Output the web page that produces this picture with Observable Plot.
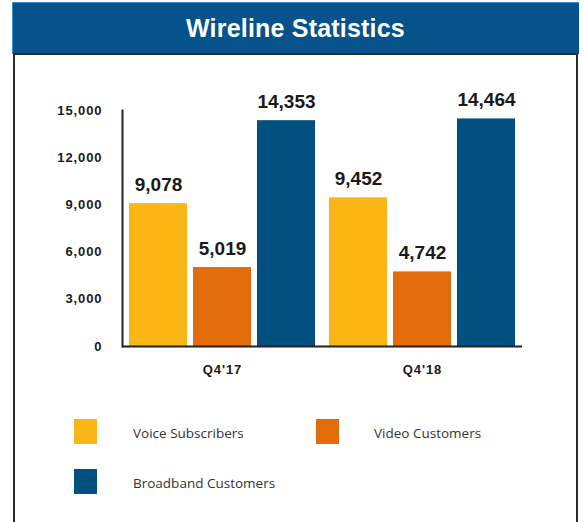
<!DOCTYPE html>
<html>
<head>
<meta charset="utf-8">
<script src="https://cdn.jsdelivr.net/npm/d3@7"></script>
<script src="https://cdn.jsdelivr.net/npm/@observablehq/plot@0.6"></script>
<style>
  html, body { margin: 0; padding: 0; background: #fff; width: 584px; height: 522px; overflow: hidden; }
  #banner { position: absolute; left: 12px; top: 2px; width: 567px; height: 52px; background: #06528a;
    box-shadow: inset 1px 1px 0 #3b8fd0; color: #fff; font: bold 25px "Liberation Sans", Arial, sans-serif;
    letter-spacing: 0.2px; text-align: center; line-height: 52px; }
  #box { position: absolute; left: 13px; top: 53px; width: 561px; height: 500px; border: 2px solid #2b2b2b;
    border-bottom: none; background: transparent; pointer-events: none; z-index: 5; }
  #chart { position: absolute; left: 0; top: 60px; width: 584px; }
  .sw { position: absolute; width: 23px; height: 25px; }
  .lt { position: absolute; font: 13.5px "Open Sans", sans-serif; color: #333; line-height: 16px; }
</style>
</head>
<body>
<div id="banner">Wireline Statistics</div>
<div id="chart"></div>
<div id="legend"></div>
<div id="box"></div>
<script>
const quarters = ["Q4'17", "Q4'18"];
const series = ["Voice Subscribers", "Video Customers", "Broadband Customers"];
const seriesColors = ["#FBB616", "#E36C0A", "#02507F"];
const voiceSubscribers = [9078, 9452];
const videoCustomers = [5019, 4742];
const broadbandCustomers = [14353, 14464];
const yTicks = [0, 3000, 6000, 9000, 12000, 15000];

const values = [voiceSubscribers, videoCustomers, broadbandCustomers];
const rows = [];
quarters.forEach((q, qi) => {
  series.forEach((s, si) => rows.push({quarter: q, series: s, value: values[si][qi]}));
});

const fmt = d3.format(",");

const plot = Plot.plot({
  width: 584,
  height: 320,
  marginLeft: 121,
  marginRight: 62,
  marginTop: 50,
  marginBottom: 34,
  style: {background: "transparent", color: "#111", fontFamily: "'Liberation Sans', Arial, sans-serif"},
  fx: {domain: quarters, padding: 0, label: null, axis: null},
  x: {domain: series, padding: 0.1, axis: null},
  y: {domain: [0, 15000], axis: null},
  color: {domain: series, range: seriesColors},
  facet: {data: rows, x: "quarter"},
  marks: [
    Plot.barY(rows, {fx: "quarter", x: "series", y: "value", fill: "series"}),
    Plot.text(rows, {fx: "quarter", x: "series", y: "value", text: d => fmt(d.value),
      dy: -13, lineAnchor: "bottom", fontSize: 19, fontWeight: "bold", fill: "#1a1a1a",
      style: "letter-spacing:1px"}),
    Plot.ruleY([0], {stroke: "#222", strokeWidth: 2}),
    Plot.frame({anchor: "left", facetAnchor: "left", stroke: "#222", strokeWidth: 2}),
    Plot.axisY({ticks: yTicks, tickFormat: fmt, tickSize: 0, tickPadding: 20, label: null,
      fontSize: 13, fontWeight: "bold", fill: "#1a1a1a"}),
    Plot.axisFx({anchor: "bottom", tickSize: 0, tickPadding: 18, label: null, fontSize: 13, fontWeight: "bold", fill: "#1a1a1a"})
  ]
});
plot.querySelectorAll("text").forEach(t => {
  if (!t.closest("[aria-label='text']")) t.style.letterSpacing = "0.9px";
});
document.getElementById("chart").appendChild(plot);

// legend
const legendPos = [[74, 419, 133], [316, 419, 374], [74, 469, 133]];
const legend = document.getElementById("legend");
series.forEach((s, i) => {
  const [sx, sy, tx] = legendPos[i];
  const sw = document.createElement("div");
  sw.className = "sw";
  sw.style.left = sx + "px"; sw.style.top = sy + "px"; sw.style.background = seriesColors[i];
  legend.appendChild(sw);
  const lt = document.createElement("div");
  lt.className = "lt";
  lt.textContent = s;
  lt.style.left = tx + "px"; lt.style.top = (sy + 6) + "px";
  legend.appendChild(lt);
});
</script>
</body>
</html>
